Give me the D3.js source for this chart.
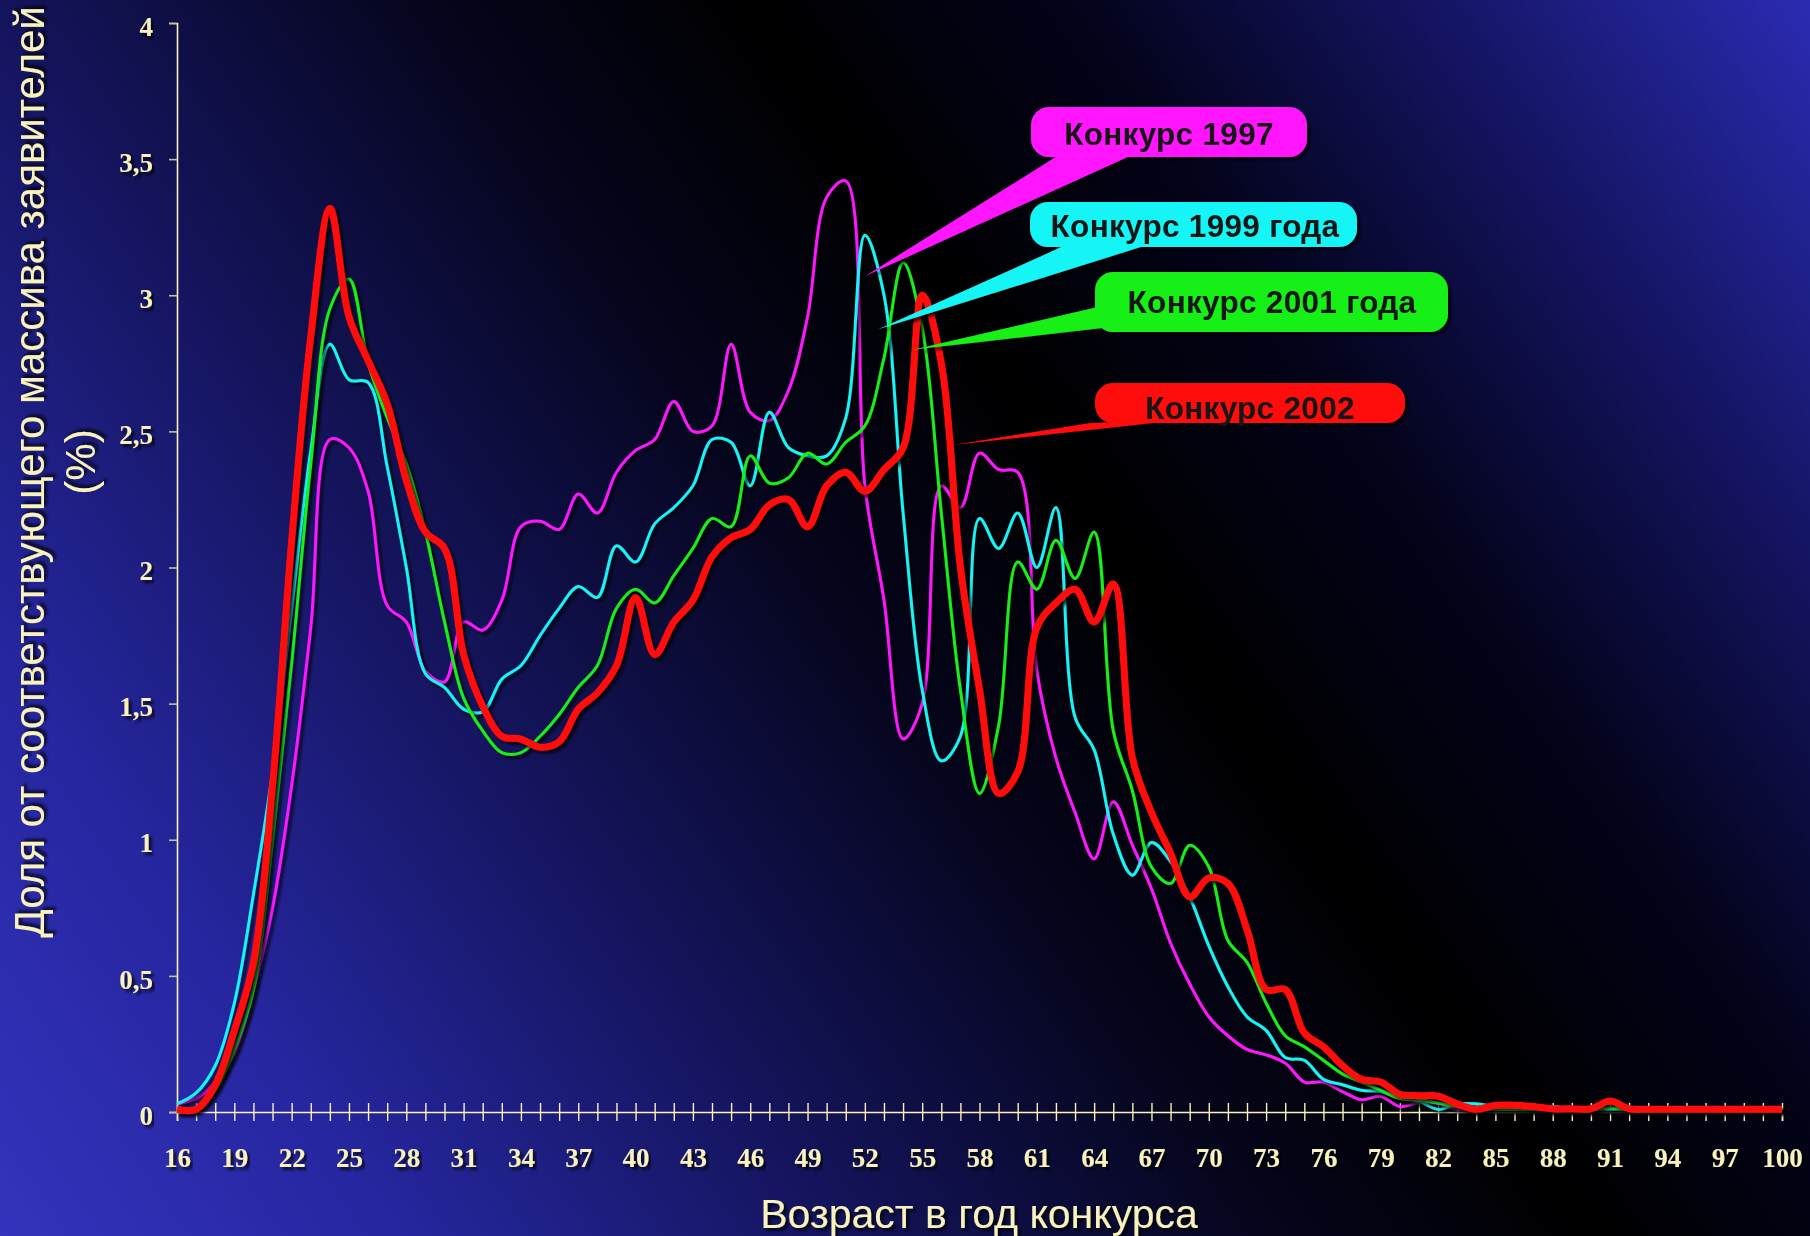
<!DOCTYPE html>
<html>
<head>
<meta charset="utf-8">
<script src="https://cdn.jsdelivr.net/npm/d3@7"></script>
<style>
  body { margin: 0; background: #000; }
  svg { display: block; }
</style>
</head>
<body>
<svg id="canvas" width="1810" height="1236"></svg>
<script>
// ages 16..100, one value per year
let ages = d3.range(16, 101)
let xLabels = d3.range(16, 101, 3)
let yTicks = [0, 0.5, 1, 1.5, 2, 2.5, 3, 3.5, 4]

let konkurs1997 = [
  0.03, 0.05, 0.11, 0.22, 0.45, 0.75, 1.2, 1.78, 2.47, 2.44,
  2.28, 1.86, 1.8, 1.62, 1.58, 1.8, 1.77, 1.88, 2.15, 2.17,
  2.14, 2.27, 2.2, 2.35, 2.43, 2.47, 2.61, 2.5, 2.52, 2.82,
  2.57, 2.54, 2.65, 2.92, 3.36, 3.42, 2.3, 1.88, 1.37, 1.5,
  2.3, 2.22, 2.42, 2.36, 2.35, 1.62, 1.3, 1.1, 0.93, 1.14,
  0.98, 0.82, 0.62, 0.47, 0.35, 0.28, 0.23, 0.21, 0.18, 0.11,
  0.11, 0.075, 0.045, 0.058, 0.02, 0.035, 0.03, 0.01, 0.01, 0.01,
  0.01, 0.01, 0.01, 0.01, 0.01, 0.01, 0.01, 0.01, 0.01, 0.01,
  0.01, 0.01, 0.01, 0.01, 0.01
]
let konkurs1999 = [
  0.03, 0.07, 0.17, 0.4, 0.8, 1.25, 1.85, 2.43, 2.82, 2.69,
  2.68, 2.37, 2.0, 1.61, 1.56, 1.48, 1.47, 1.59, 1.64, 1.75,
  1.85, 1.93, 1.89, 2.08, 2.02, 2.16, 2.22, 2.3, 2.47, 2.46,
  2.3, 2.57, 2.44, 2.41, 2.41, 2.55, 3.22, 3.0, 2.2, 1.55,
  1.29, 1.38, 2.18, 2.07, 2.2, 2.0, 2.22, 1.45, 1.33, 1.02,
  0.87, 0.99, 0.92, 0.79, 0.61, 0.46, 0.35, 0.3, 0.2, 0.19,
  0.12, 0.1, 0.08, 0.075, 0.05, 0.04, 0.01, 0.03, 0.03, 0.02,
  0.015, 0.01, 0.02, 0.01, 0.01, 0.01, 0.01, 0.01, 0.01, 0.01,
  0.01, 0.01, 0.01, 0.01, 0.01
]
let konkurs2001 = [
  0.0, 0.01, 0.08, 0.23, 0.45, 1.0, 1.65, 2.38, 2.95, 3.06,
  2.75, 2.55, 2.38, 2.13, 1.8, 1.52, 1.4, 1.32, 1.32, 1.38,
  1.46, 1.56, 1.64, 1.85, 1.92, 1.87, 1.97, 2.07, 2.18, 2.15,
  2.41, 2.31, 2.33, 2.42, 2.38, 2.46, 2.52, 2.77, 3.12, 2.88,
  2.2, 1.55, 1.17, 1.42, 2.02, 1.92, 2.1, 1.96, 2.13, 1.4,
  1.18, 0.9, 0.84, 0.98, 0.9, 0.63, 0.55, 0.4, 0.28, 0.24,
  0.19, 0.14, 0.11, 0.08, 0.05, 0.045, 0.033, 0.02, 0.01, 0.01,
  0.01, 0.01, 0.01, 0.01, 0.01, 0.015, 0.01, 0.01, 0.01, 0.01,
  0.01, 0.01, 0.01, 0.01, 0.01
]
let konkurs2002 = [
  0.01, 0.01, 0.1, 0.3, 0.55, 1.2, 2.1, 2.85, 3.32, 2.92,
  2.76, 2.6, 2.32, 2.13, 2.07, 1.68, 1.49, 1.38, 1.37, 1.34,
  1.36, 1.48, 1.54, 1.64, 1.89, 1.68, 1.8, 1.88, 2.04, 2.11,
  2.14, 2.23, 2.25, 2.15, 2.3, 2.35, 2.28, 2.36, 2.44, 3.0,
  2.75, 2.0, 1.55, 1.17, 1.25, 1.78, 1.87, 1.92, 1.8, 1.94,
  1.3, 1.1, 0.95, 0.79, 0.86, 0.84, 0.67, 0.45, 0.45, 0.29,
  0.24, 0.17, 0.12, 0.11, 0.065, 0.06, 0.058, 0.03, 0.01, 0.025,
  0.025, 0.02, 0.012, 0.012, 0.012, 0.04, 0.012, 0.01, 0.01, 0.01,
  0.01, 0.01, 0.01, 0.01, 0.01
]

let seriesNames = ['Конкурс 1997', 'Конкурс 1999 года', 'Конкурс 2001 года', 'Конкурс 2002']
let seriesColors = ['#ff19ff', '#19f5f5', '#19f019', '#ff0a0a']
let seriesWidths = [3, 3, 3, 7]
let seriesValues = [konkurs1997, konkurs1999, konkurs2001, konkurs2002]

// where each callout points to, in data units (age, %)
let calloutTips = [[52.0, 3.07], [52.7, 2.875], [54.5, 2.8], [56.6, 2.45]]

let svg = d3.select('#canvas')
let defs = svg.append('defs')

// background: blue in bottom-left and top-right corners, black through the middle
let bg = defs.append('linearGradient')
  .attr('id', 'bg')
  .attr('gradientUnits', 'userSpaceOnUse')
  .attr('x1', 0).attr('y1', 1236).attr('x2', 1810).attr('y2', 0)
let bgStops = [[0, '#3333bd'], [0.15, '#2626a0'], [0.32, '#14145c'], [0.48, '#05051c'],
  [0.6, '#000000'], [0.72, '#03031a'], [0.86, '#151565'], [1, '#2b2bb3']]
bgStops.forEach(s => bg.append('stop').attr('offset', s[0]).attr('stop-color', s[1]))

let shadow = defs.append('filter').attr('id', 'shadow')
  .attr('x', '-5%').attr('y', '-5%').attr('width', '110%').attr('height', '110%')
shadow.append('feDropShadow')
  .attr('dx', 3).attr('dy', 3).attr('stdDeviation', 1.5)
  .attr('flood-color', '#000').attr('flood-opacity', 0.75)

svg.append('rect').attr('width', 1810).attr('height', 1236).attr('fill', 'url(#bg)')

let x = d3.scaleLinear().domain([16, 100]).range([177, 1782])
let y = d3.scaleLinear().domain([0, 4]).range([1112, 23])

let cream = '#f8f2bc'

// horizontal grid lines (they stick out left of the axis a bit, like ticks)
svg.append('g')
  .selectAll('line')
  .data(yTicks.filter(d => d > 0))
  .enter()
  .append('line')
  .attr('x1', 169).attr('x2', 1782)
  .attr('y1', d => y(d)).attr('y2', d => y(d))
  .attr('stroke', '#c4c09e')
  .attr('stroke-width', 1.6)
  .attr('filter', 'url(#shadow)')

// y axis
let yAxis = d3.axisLeft(y)
  .tickValues(yTicks)
  .tickSize(8)
  .tickPadding(16)
  .tickFormat(d => String(d).replace('.', ','))

let yG = svg.append('g')
  .attr('transform', 'translate(177,0)')
  .call(yAxis)
yG.select('.domain').attr('stroke', cream).attr('stroke-width', 1.6)
yG.selectAll('.tick line').attr('stroke', '#c4c09e').attr('stroke-width', 1.6)
yG.selectAll('.tick text')
  .attr('fill', cream)
  .attr('font-family', '"Liberation Serif", "Times New Roman", serif')
  .attr('font-weight', 'bold')
  .attr('font-size', 27)
  .attr('dy', '0.45em')
  .attr('filter', 'url(#shadow)')

// x axis: a tick every year, label every 3 years
let xAxis = d3.axisBottom(x)
  .tickValues(ages)
  .tickSize(9)
  .tickFormat(d => xLabels.includes(d) ? d : '')

let xG = svg.append('g')
  .attr('transform', 'translate(0,1112)')
  .call(xAxis)
xG.select('.domain').attr('stroke', cream).attr('stroke-width', 1.6)
xG.selectAll('.tick line').attr('stroke', cream).attr('stroke-width', 1.4).attr('y1', -9)
xG.selectAll('.tick text')
  .attr('fill', cream)
  .attr('font-family', '"Liberation Serif", "Times New Roman", serif')
  .attr('font-weight', 'bold')
  .attr('font-size', 27)
  .attr('y', 55)
  .attr('dy', 0)
  .attr('filter', 'url(#shadow)')

// axis titles
svg.append('text')
  .attr('x', 979).attr('y', 1228)
  .attr('text-anchor', 'middle')
  .attr('fill', cream)
  .attr('font-family', '"Liberation Sans", Arial, sans-serif')
  .attr('font-size', 41)
  .attr('filter', 'url(#shadow)')
  .text('Возраст в год конкурса')

let yTitle = svg.append('g')
  .attr('transform', 'rotate(-90)')
  .attr('fill', cream)
  .attr('font-family', '"Liberation Sans", Arial, sans-serif')
  .attr('font-size', 42)
  .attr('text-anchor', 'middle')
  .attr('filter', 'url(#shadow)')
yTitle.append('text').attr('x', -472).attr('y', 44).text('Доля от соответствующего массива заявителей')
yTitle.append('text').attr('x', -462).attr('y', 95).text('(%)')

// the curves
let line = d3.line()
  .x((d, i) => x(ages[i]))
  .y(d => y(d))
  .curve(d3.curveCatmullRom.alpha(0.5))

svg.append('g')
  .selectAll('path')
  .data(seriesValues)
  .enter()
  .append('path')
  .attr('d', d => line(d))
  .attr('fill', 'none')
  .attr('stroke', (d, i) => seriesColors[i])
  .attr('stroke-width', (d, i) => seriesWidths[i])
  .attr('stroke-linejoin', 'round')
  .attr('filter', 'url(#shadow)')

// callout bubbles: box, wedge pointing to the curve, label
let boxes = [
  { x: 1031, y: 107, w: 276, h: 50, tx: 1169, ty: 145, base: [[1067, 150], [1143, 150]] },
  { x: 1030, y: 202, w: 327, h: 45, tx: 1195, ty: 237, base: [[1077, 240], [1163, 240]] },
  { x: 1095, y: 272, w: 353, h: 60, tx: 1272, ty: 313, base: [[1102, 306], [1102, 328]] },
  { x: 1095, y: 383, w: 310, h: 40, tx: 1250, ty: 419, base: [[1090, 423], [1180, 420]] }
]

let callouts = svg.append('g')
  .selectAll('g')
  .data(boxes)
  .enter()
  .append('g')
  .attr('filter', 'url(#shadow)')

callouts.append('path')
  .attr('d', (b, i) => {
    let tip = [x(calloutTips[i][0]), y(calloutTips[i][1])]
    return 'M' + tip + 'L' + b.base[0] + 'L' + b.base[1] + 'Z'
  })
  .attr('fill', (b, i) => seriesColors[i])

callouts.append('rect')
  .attr('x', b => b.x).attr('y', b => b.y)
  .attr('width', b => b.w).attr('height', b => b.h)
  .attr('rx', 18).attr('ry', 18)
  .attr('fill', (b, i) => seriesColors[i])

callouts.append('text')
  .attr('x', b => b.tx).attr('y', b => b.ty)
  .attr('text-anchor', 'middle')
  .attr('font-family', '"Liberation Sans", Arial, sans-serif')
  .attr('font-weight', 'bold')
  .attr('font-size', 31.5)
  .attr('letter-spacing', 0.3)
  .attr('fill', '#161616')
  .text((b, i) => seriesNames[i])
</script>
</body>
</html>
